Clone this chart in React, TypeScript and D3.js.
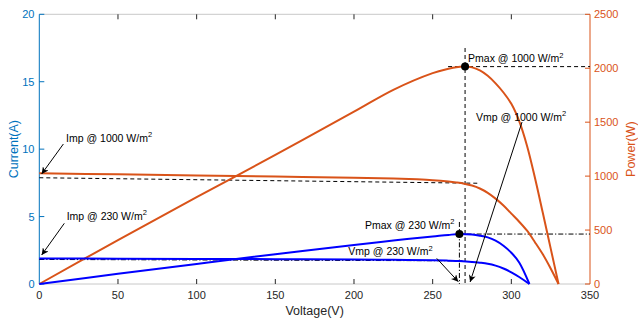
import React from "react";
import * as d3 from "d3";

// ---- data ----
const voltageTicks = [0, 50, 100, 150, 200, 250, 300, 350];
const currentTicks = [0, 5, 10, 15, 20];
const powerTicks = [0, 500, 1000, 1500, 2000, 2500];

// I-V at 1000 W/m2
const vIV1000 = [0, 50, 100, 150, 200, 225, 240, 250, 260, 265, 270, 275, 280, 285, 290, 295, 300, 305, 310, 315, 320, 325, 330];
const iIV1000 = [8.21, 8.13, 8.05, 7.97, 7.88, 7.82, 7.76, 7.7, 7.6, 7.53, 7.44, 7.3, 7.08, 6.76, 6.33, 5.82, 5.22, 4.62, 3.95, 3.1, 2.2, 1.15, 0];
// P-V at 1000 W/m2
const vPV1000 = [0, 50, 100, 150, 200, 225, 250, 260, 265, 270, 275, 280, 285, 290, 295, 300, 305, 310, 315, 320, 325, 330];
const pPV1000 = [0, 407, 805, 1196, 1597, 1800, 1955, 1995, 2010, 2015, 2008, 1980, 1930, 1860, 1775, 1670, 1510, 1280, 985, 660, 330, 0];
// I-V at 230 W/m2
const vIV230 = [0, 50, 100, 150, 200, 225, 250, 260, 267, 275, 280, 285, 290, 295, 300, 305, 311.5];
const iIV230 = [1.9, 1.88, 1.86, 1.84, 1.81, 1.79, 1.76, 1.73, 1.7, 1.64, 1.58, 1.5, 1.36, 1.15, 0.87, 0.52, 0];
// P-V at 230 W/m2
const vPV230 = [0, 50, 100, 150, 200, 225, 250, 260, 267, 275, 280, 285, 290, 295, 300, 305, 311.5];
const pPV230 = [0, 94, 186, 276, 362, 403, 440, 455, 463, 458, 448, 432, 402, 355, 290, 200, 0];

// maximum power points
const mpp1000 = { v: 270.6, p: 2015 };
const mpp230 = { v: 267, p: 463 };

// reference guide lines (V, I)
const impLine1000 = { v: [0, 280], i: [7.88, 7.47] };
const impLine230 = { v: [0, 270], i: [1.82, 1.72] };

// annotations: text anchor and arrow (in V / I units)
const annotations = [
  { label: "Imp @ 1000 W/m", tv: 17, ti: 10.55, a: [15.3, 10.38, 1.5, 8.16] },
  { label: "Imp @ 230 W/m", tv: 17.4, ti: 4.75, a: [15.9, 4.5, 1.5, 2.15] },
  { label: "Vmp @ 230 W/m", tv: 196.4, ti: 2.15, a: [252.6, 1.9, 266.3, 0.17] },
  { label: "Vmp @ 1000 W/m", tv: 277.6, ti: 12.11, a: [306.8, 12.01, 273.8, 0.15] },
  { label: "Pmax @ 1000 W/m", tv: 272.5, ti: 16.46, a: null },
  { label: "Pmax @ 230 W/m", tv: 207, ti: 4.08, a: null },
];

const ORANGE = "#D95319";
const AXBLUE = "#0072BD";
const BLUE = "#0000FF";
const FONT = "'Liberation Sans', Arial, Helvetica, sans-serif";

export default function App() {
  const W = 638, H = 325;
  const L = 39.3, R = 590, T = 14.3, B = 284;
  const x = d3.scaleLinear().domain([0, 350]).range([L, R]);
  const yI = d3.scaleLinear().domain([0, 20]).range([B, T]);
  const yP = d3.scaleLinear().domain([0, 2500]).range([B, T]);

  const curve = d3.curveCatmullRom.alpha(0.5);
  const lineI = d3.line<[number, number]>().x(d => x(d[0])).y(d => yI(d[1])).curve(curve);
  const lineP = d3.line<[number, number]>().x(d => x(d[0])).y(d => yP(d[1])).curve(curve);
  const zip = (a: number[], b: number[]) => a.map((v, k) => [v, b[k]] as [number, number]);

  const dash = "4,3";
  const dashDot = "5,2,1.2,2";

  return (
    <svg width={W} height={H} style={{ position: "fixed", left: 0, top: 0, background: "#fff" }} fontFamily={FONT}>
      <defs>
        <marker id="arr" viewBox="0 0 10 10" refX="10" refY="5" markerWidth="7" markerHeight="7" markerUnits="userSpaceOnUse" orient="auto">
          <path d="M0,0 L10,5 L0,10 L3,5 z" fill="#000" />
        </marker>
      </defs>
      <rect x={0} y={0} width={W} height={H} fill="#fff" />

      {/* box top and bottom */}
      <line x1={L} x2={R} y1={T} y2={T} stroke="#c8c8c8" strokeWidth={1} />
      <line x1={L} x2={R} y1={B} y2={B} stroke="#c8c8c8" strokeWidth={1} />

      {/* x ticks */}
      {voltageTicks.map(t => (
        <g key={"xt" + t}>
          {t > 0 && t < 350 && <line x1={x(t)} x2={x(t)} y1={B} y2={B - 5} stroke="#262626" />}
          {t > 0 && t < 350 && <line x1={x(t)} x2={x(t)} y1={T} y2={T + 5} stroke="#262626" />}
          <text x={x(t)} y={298.5} fontSize={11} textAnchor="middle" fill="#262626">{t}</text>
        </g>
      ))}
      <text x={(L + R) / 2} y={315} fontSize={12.5} textAnchor="middle" fill="#262626">Voltage(V)</text>

      {/* left axis */}
      <line x1={L} x2={L} y1={T} y2={B} stroke={AXBLUE} strokeWidth={1} />
      {currentTicks.map(t => (
        <g key={"yl" + t}>
          <line x1={L} x2={L + 5} y1={yI(t)} y2={yI(t)} stroke={AXBLUE} />
          <text x={34.5} y={yI(t) + 4} fontSize={11} textAnchor="end" fill={AXBLUE}>{t}</text>
        </g>
      ))}
      <text transform={`translate(17.5,${(T + B) / 2}) rotate(-90)`} fontSize={12.5} textAnchor="middle" fill={AXBLUE}>Current(A)</text>

      {/* right axis */}
      <line x1={R} x2={R} y1={T} y2={B} stroke={ORANGE} strokeWidth={1} />
      {powerTicks.map(t => (
        <g key={"yr" + t}>
          <line x1={R - 5} x2={R} y1={yP(t)} y2={yP(t)} stroke={ORANGE} />
          <text x={594} y={yP(t) + 3.5} fontSize={11} textAnchor="start" fill={ORANGE}>{t}</text>
        </g>
      ))}
      <text transform={`translate(635,${(T + B) / 2}) rotate(-90)`} fontSize={12.5} textAnchor="middle" fill={ORANGE}>Power(W)</text>

      {/* guide lines */}
      <line x1={x(impLine1000.v[0])} x2={x(impLine1000.v[1])} y1={yI(impLine1000.i[0])} y2={yI(impLine1000.i[1])} stroke="#000" strokeWidth={1} strokeDasharray={dash} />
      <line x1={x(impLine230.v[0])} x2={x(impLine230.v[1])} y1={yI(impLine230.i[0])} y2={yI(impLine230.i[1])} stroke="#000" strokeWidth={1} strokeDasharray={dashDot} />
      <line x1={x(mpp1000.v)} x2={x(mpp1000.v)} y1={yI(17.5)} y2={yI(0)} stroke="#000" strokeWidth={1} strokeDasharray={dash} />
      <line x1={x(259.8)} x2={x(350)} y1={yP(mpp1000.p)} y2={yP(mpp1000.p)} stroke="#000" strokeWidth={1} strokeDasharray={dash} />
      <line x1={x(mpp230.v)} x2={x(mpp230.v)} y1={yI(4.6)} y2={yI(0)} stroke="#000" strokeWidth={1} strokeDasharray={dashDot} />
      <line x1={x(265)} x2={x(350)} y1={yP(mpp230.p)} y2={yP(mpp230.p)} stroke="#000" strokeWidth={1} strokeDasharray={dashDot} />

      {/* curves */}
      <path d={lineI(zip(vIV1000, iIV1000)) || ""} fill="none" stroke={ORANGE} strokeWidth={2} />
      <path d={lineP(zip(vPV1000, pPV1000)) || ""} fill="none" stroke={ORANGE} strokeWidth={2} />
      <path d={lineI(zip(vIV230, iIV230)) || ""} fill="none" stroke={BLUE} strokeWidth={2} />
      <path d={lineP(zip(vPV230, pPV230)) || ""} fill="none" stroke={BLUE} strokeWidth={2} />

      {/* MPP markers */}
      <circle cx={x(mpp1000.v)} cy={yP(mpp1000.p)} r={4} fill="#000" />
      <circle cx={x(mpp230.v)} cy={yP(mpp230.p)} r={4} fill="#000" />

      {/* annotations */}
      {annotations.map((an, k) => (
        <g key={"an" + k}>
          {an.a && (
            <line x1={x(an.a[0])} y1={yI(an.a[1])} x2={x(an.a[2])} y2={yI(an.a[3])} stroke="#000" strokeWidth={1} markerEnd="url(#arr)" />
          )}
          <text x={x(an.tv)} y={yI(an.ti)} fontSize={10.5} fill="#000">
            <tspan>{an.label}</tspan>
            <tspan dy={-4.5} fontSize={7.5}>2</tspan>
          </text>
        </g>
      ))}
    </svg>
  );
}
